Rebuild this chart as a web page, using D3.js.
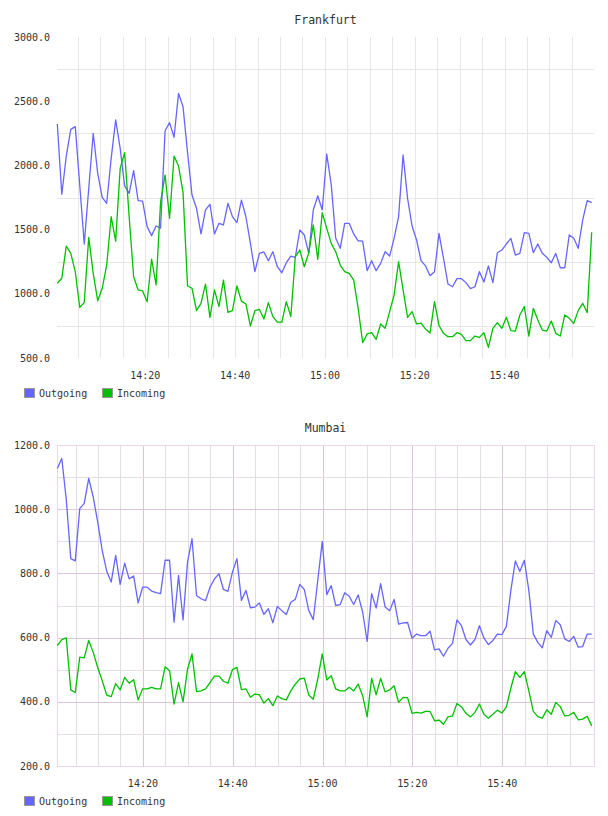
<!DOCTYPE html>
<html lang="en">
<head>
<meta charset="utf-8">
<title>Outgoing / Incoming</title>
<script src="https://d3js.org/d3.v7.min.js"></script>
<style>
body { margin: 0; background: #fff; }
svg text { font-family: "DejaVu Sans Mono", monospace; fill: #333; }
</style>
</head>
<body>
<script>
// ---- data (one value per minute) ----
const seriesNames = ["Outgoing", "Incoming"];
const seriesColors = ["#6666ff", "#00c000"];

const frankfurtStart = "14:00:24";
const frankfurtOut = [2322,1775,2073,2281,2302,1845,1388,1819,2250,1938,1751,1705,2055,2354,2133,1840,1782,1959,1725,1722,
  1523,1453,1528,1512,2270,2333,2219,2561,2457,2100,1769,1666,1466,1653,1697,1466,1549,1536,1705,1601,
  1554,1730,1600,1393,1172,1315,1326,1258,1328,1211,1164,1242,1294,1284,1497,1458,1315,1653,1762,1653,
  2089,1850,1432,1354,1549,1549,1466,1413,1410,1180,1258,1180,1237,1328,1294,1432,1601,2081,1743,1528,
  1419,1258,1217,1141,1172,1471,1276,1076,1055,1118,1118,1087,1040,1055,1172,1092,1217,1087,1320,1341,
  1388,1432,1302,1315,1476,1471,1320,1388,1315,1284,1242,1315,1203,1203,1458,1432,1354,1575,1725,1710];
const frankfurtIn = [1082,1121,1372,1315,1172,895,931,1440,1159,946,1043,1224,1600,1410,1977,2099,1600,1133,1030,1022,
  939,1269,1069,1717,1925,1588,2073,1995,1790,1061,1043,869,926,1076,817,1030,900,1107,856,869,
  1061,943,921,749,869,879,804,931,822,780,780,939,822,1289,1341,1211,1320,1536,1269,1632,
  1510,1393,1328,1224,1172,1159,1107,887,619,687,697,645,765,731,861,991,1250,1030,817,861,
  765,772,725,695,939,753,692,666,666,697,684,635,635,671,661,697,583,731,775,731,
  817,713,710,835,900,671,887,796,718,710,788,692,671,835,809,770,869,926,853,1479];

const mumbaiStart = "14:00:56";
const mumbaiOut = [1127,1158,1030,846,839,1002,1018,1096,1038,960,872,807,773,856,766,832,783,792,708,757,
  757,745,740,737,841,841,648,794,655,835,908,731,721,715,757,783,799,750,744,804,
  846,716,747,693,695,708,672,690,646,697,684,672,710,719,766,750,684,656,778,900,
  734,762,700,703,740,729,703,733,679,588,737,692,768,695,684,719,642,646,647,598,
  611,606,606,620,562,565,542,567,582,655,637,594,577,594,637,599,578,591,611,609,
  635,747,839,806,841,747,611,585,568,622,601,653,640,596,588,604,570,572,611,611];
const mumbaiIn = [575,594,599,437,429,539,537,591,554,507,466,421,416,457,437,476,458,469,406,440,
  440,445,440,440,509,497,393,460,400,502,549,432,434,440,460,480,480,464,458,500,
  507,438,440,414,424,422,396,410,388,418,410,406,434,455,471,474,421,408,471,549,
  468,481,440,434,434,445,434,455,419,353,473,422,473,431,437,450,398,414,413,364,
  367,365,370,370,341,343,330,353,356,395,384,364,353,367,393,361,349,361,374,365,
  384,443,494,476,494,434,370,354,349,375,361,398,385,356,358,367,344,346,355,325];

// ---- axes ----
const timeTickLabels = ["14:20", "14:40", "15:00", "15:20", "15:40"];
const frankfurtYTicks = [500, 1000, 1500, 2000, 2500, 3000];
const frankfurtYGrid = [750, 1250, 1750, 2250, 2750];
const mumbaiYTicks = [200, 400, 600, 800, 1000, 1200];
const mumbaiYMinor = [300, 500, 700, 900, 1100];

const svgWidth = 608;
const svgHeight = 816;

const svg = d3.select("body").append("svg")
  .attr("width", svgWidth)
  .attr("height", svgHeight);

const parseT = d3.timeParse("%H:%M:%S");
const fmtY = d3.format(".1f");

function minuteTimes(start, n) {
  const t0 = parseT(start);
  return d3.range(n).map(i => d3.timeMinute.offset(t0, i));
}

function drawChart(o) {
  const times = minuteTimes(o.start, o.out.length);
  const left = 57, right = 594, top = o.top, bottom = o.top + 321;
  const g = svg.append("g");

  const x = d3.scaleTime()
    .domain([times[0], times[times.length - 1]])
    .range([left + 0.3, 591.7]);
  const y = d3.scaleLinear()
    .domain(o.yDomain)
    .range([bottom, top]);

  // grid: vertical every 5 min, inside the data range only
  const fiveMin = d3.timeMinute.every(5).range(times[0], times[times.length - 1]);
  const labelled = d3.timeFormat("%H:%M");
  g.append("g").selectAll("line")
    .data(fiveMin)
    .join("line")
    .attr("x1", d => Math.round(x(d)) + 0.5)
    .attr("x2", d => Math.round(x(d)) + 0.5)
    .attr("y1", top)
    .attr("y2", bottom)
    .attr("stroke", d => timeTickLabels.includes(labelled(d)) ? o.majorColor : o.minorColor)
    .attr("stroke-width", 1);

  // grid: horizontal
  g.append("g").selectAll("line")
    .data(o.minorY)
    .join("line")
    .attr("x1", left).attr("x2", right)
    .attr("y1", d => Math.round(y(d)) + 0.5)
    .attr("y2", d => Math.round(y(d)) + 0.5)
    .attr("stroke", o.minorColor);
  if (o.majorY) {
    g.append("g").selectAll("line")
      .data(o.majorY)
      .join("line")
      .attr("x1", left).attr("x2", right)
      .attr("y1", d => Math.round(y(d)) + 0.5)
      .attr("y2", d => Math.round(y(d)) + 0.5)
      .attr("stroke", o.majorColor);
  }
  if (o.border) {
    g.append("rect")
      .attr("x", left + 0.5).attr("y", top + 0.5)
      .attr("width", right - left).attr("height", bottom - top)
      .attr("fill", "none")
      .attr("stroke", o.border);
  }

  // y labels
  g.append("g").selectAll("text")
    .data(o.yTicks)
    .join("text")
    .attr("x", 50)
    .attr("y", d => y(d))
    .attr("dy", "0.35em")
    .attr("text-anchor", "end")
    .attr("font-size", 10)
    .text(d => fmtY(d));

  // x labels
  const labelTimes = timeTickLabels.map(s => parseT(s + ":00"));
  g.append("g").selectAll("text")
    .data(labelTimes)
    .join("text")
    .attr("x", d => x(d))
    .attr("y", bottom + 17)
    .attr("dy", "0.35em")
    .attr("text-anchor", "middle")
    .attr("font-size", 10)
    .text(d => labelled(d));

  // title
  g.append("text")
    .attr("x", (left + right) / 2)
    .attr("y", top - 17)
    .attr("dy", "0.35em")
    .attr("text-anchor", "middle")
    .attr("font-size", 11.5)
    .text(o.title);

  // lines
  const line = d3.line()
    .x((d, i) => x(times[i]))
    .y(d => y(d));
  [o.out, o.inc].forEach((vals, k) => {
    g.append("path")
      .datum(vals)
      .attr("fill", "none")
      .attr("stroke", seriesColors[k])
      .attr("stroke-width", 1.3)
      .attr("stroke-linejoin", "round")
      .attr("d", line);
  });

  // legend
  const leg = g.append("g").attr("transform", `translate(24,${bottom + 30})`);
  const legX = [0, 78];
  seriesNames.forEach((name, k) => {
    leg.append("rect")
      .attr("x", legX[k] + 0.5).attr("y", 0.5)
      .attr("width", 10).attr("height", 9)
      .attr("fill", seriesColors[k])
      .attr("stroke", "#999");
    leg.append("text")
      .attr("x", legX[k] + 15)
      .attr("y", 5)
      .attr("dy", "0.35em")
      .attr("font-size", 10)
      .text(name);
  });
}

drawChart({
  title: "Frankfurt", start: frankfurtStart, out: frankfurtOut, inc: frankfurtIn,
  top: 37, yDomain: [500, 3000], yTicks: frankfurtYTicks,
  minorY: frankfurtYGrid, majorY: null,
  minorColor: "#e6e6e6", majorColor: "#e6e6e6", border: null
});

drawChart({
  title: "Mumbai", start: mumbaiStart, out: mumbaiOut, inc: mumbaiIn,
  top: 445, yDomain: [200, 1200], yTicks: mumbaiYTicks,
  minorY: mumbaiYMinor, majorY: mumbaiYTicks,
  minorColor: "#e4dde4", majorColor: "#dcc4dc", border: "#ecd6ec"
});
</script>
</body>
</html>
